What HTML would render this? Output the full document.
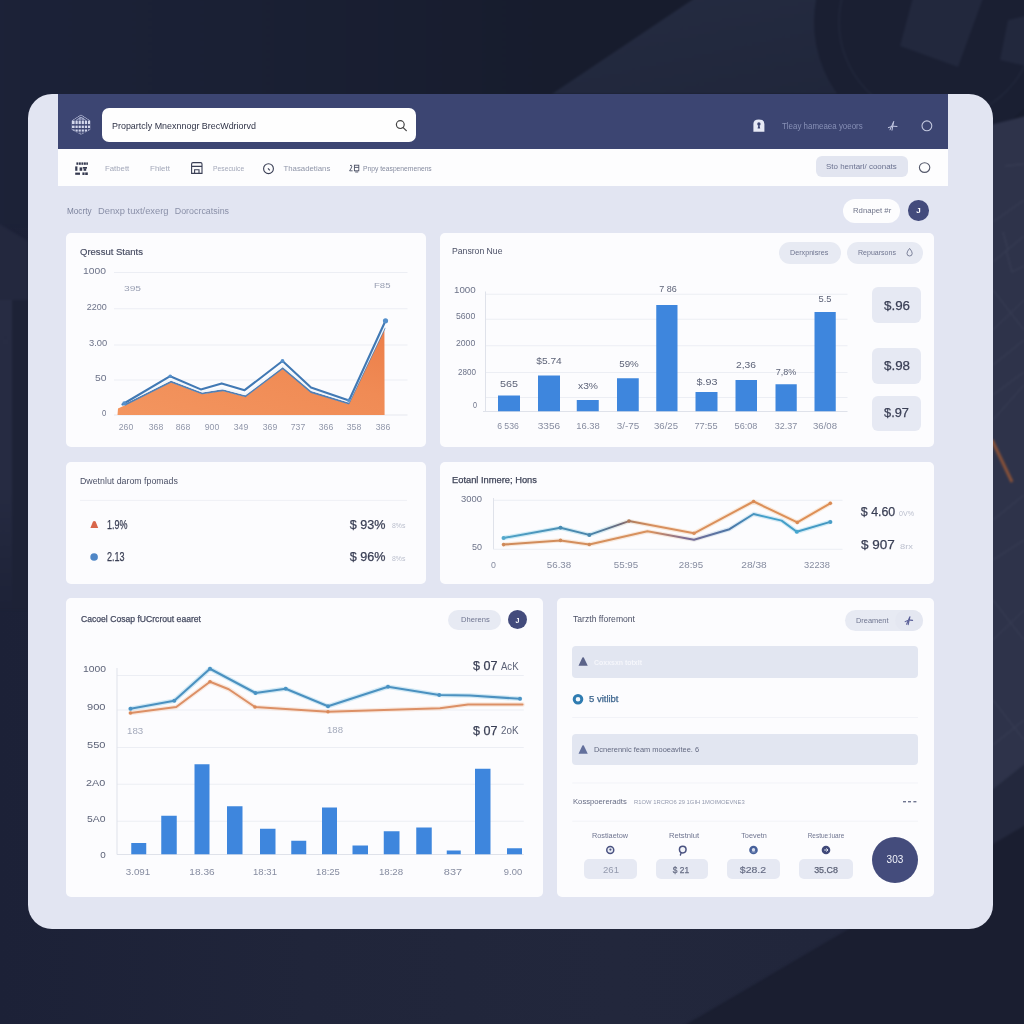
<!DOCTYPE html>
<html lang="en"><head><meta charset="utf-8"><title>Property Management Dashboard</title>
<style>

*{box-sizing:border-box;margin:0;padding:0}
html,body{width:1024px;height:1024px;overflow:hidden}
body{position:relative;background:#1f2438;font-family:"Liberation Sans",sans-serif;}
.bg,.ov{position:absolute;left:0;top:0;width:1024px;height:1024px}
.ov{pointer-events:none}
.panel{position:absolute;left:28px;top:93.5px;width:965px;height:835px;border-radius:24px;background:#e2e5f2;}
.panel>div{position:absolute}
.nav{left:30px;top:0;width:890px;height:55px;background:#3c4572}
.tool{left:30px;top:55px;width:890px;height:37px;background:#fdfdfe}
.card{background:#fcfcfe;border-radius:5px}
.search{background:#fefefe;border-radius:7px}
.pill{background:#e7eaf3;border-radius:11px}
.wpill{background:#fdfdfe;border-radius:13px}
.vbox{background:#e6e9f3;border-radius:6px}
.row{background:#e2e6f1;border-radius:4px}
.dot{background:#434b7c;border-radius:50%}
.texts{position:absolute;left:0;top:0;width:1024px;height:1024px;will-change:transform;transform:translateZ(0)}
.t{position:absolute;white-space:nowrap;line-height:1;transform:translateY(-50%);transform-origin:0 50%}
.t.c{transform:translate(-50%,-50%);transform-origin:50% 50%}

</style></head>
<body>
<svg class="bg" width="1024" height="1024" viewBox="0 0 1024 1024">
<defs>
<linearGradient id="gtop" x1="0" y1="0" x2="1" y2="0"><stop offset="0" stop-color="#1c2238"/><stop offset="0.25" stop-color="#1a2034"/><stop offset="0.55" stop-color="#171c2d"/><stop offset="1" stop-color="#181d2e"/></linearGradient>
<linearGradient id="gdiag" x1="0" y1="0" x2="1" y2="1"><stop offset="0" stop-color="#252c42"/><stop offset="1" stop-color="#1f2539"/></linearGradient>
<linearGradient id="gbase" x1="0" y1="0" x2="1" y2="0"><stop offset="0" stop-color="#1c2137"/><stop offset="0.3" stop-color="#20253a"/><stop offset="0.6" stop-color="#22273c"/><stop offset="1" stop-color="#20253a"/></linearGradient>
<linearGradient id="gleft" x1="0" y1="0" x2="0" y2="1"><stop offset="0" stop-color="#272c43"/><stop offset="0.6" stop-color="#262b42"/><stop offset="1" stop-color="#1d2237"/></linearGradient>
<filter id="soft" x="-5%" y="-5%" width="110%" height="110%" color-interpolation-filters="sRGB"><feGaussianBlur stdDeviation="1.1"/></filter>
</defs>
<rect x="0" y="0" width="1024" height="1024" fill="url(#gbase)"/>
<g filter="url(#soft)">
<rect x="-10" y="-10" width="1044" height="236" fill="url(#gtop)"/>
<polygon points="552,94 707,-10 1034,-10 1034,94" fill="url(#gdiag)"/>
<circle cx="937" cy="22" r="123" fill="#1a1f32"/>
<circle cx="937" cy="22" r="98" fill="none" stroke="#22283c" stroke-width="1.5"/>
<polygon points="915,-10 986,-10 958,67 900,46" fill="#22283d"/>
<polygon points="1008,20 1034,14 1034,68 1000,60" fill="#22283d"/>
<polygon points="990,125 1034,114 1034,757 990,792" fill="#2e334a"/>
<polygon points="990,792 1034,757 1034,819 990,852" fill="#23283d"/>
<g stroke="#3b4057" stroke-width="1" fill="none">
<path d="M993 222 L1024 200 M1005 166 L1024 164 M993 262 L1024 236 M1006 250 L1012 272 L1024 266 M1003 232 L1008 250 M993 290 L1024 330 M993 330 L1024 300 M993 365 L1024 340 M993 395 L1024 372 M993 420 L1024 385 M993 520 L1024 495 M993 560 L1024 540 M993 600 L1024 640 M993 640 L1024 610 M993 700 L1024 740 M993 745 L1024 720"/>
</g>
<path d="M992 440 L1012 482" stroke="#8a5238" stroke-width="3" fill="none"/>
<polygon points="-10,218 28,241 28,302 -10,302" fill="#23283e"/>
<rect x="-10" y="300" width="22" height="310" fill="url(#gleft)"/>
<rect x="12" y="300" width="16" height="310" fill="#1d2236"/>
<polygon points="670,1034 1034,820 1034,1034" fill="#1a1e30"/>
</g>
</svg>
<div class="panel">
<div class="nav"></div>
<div class="tool"></div>
<div class="search" style="left:74.25px;top:14.5px;width:314px;height:34px;"></div>
<div class="pill" style="left:788.2px;top:62.5px;width:91.4px;height:21.2px;border-radius:6px;background:#e2e5f0;"></div>
<div class="wpill" style="left:814.5px;top:105.25px;width:57.5px;height:24.25px;"></div>
<div class="dot" style="left:880.2px;top:106.8px;width:20.6px;height:20.6px;"></div>
<div class="card" style="left:37.5px;top:139px;width:360.5px;height:214.5px;"></div>
<div class="card" style="left:411.5px;top:139px;width:494.5px;height:214.5px;"></div>
<div class="card" style="left:37.5px;top:368px;width:360.5px;height:122px;"></div>
<div class="card" style="left:411.5px;top:368px;width:494.5px;height:122px;"></div>
<div class="card" style="left:37.5px;top:504.5px;width:477.5px;height:298.5px;"></div>
<div class="card" style="left:528.5px;top:504.5px;width:377.5px;height:298.5px;"></div>
<div class="pill" style="left:751px;top:148.5px;width:61.5px;height:21.7px;"></div>
<div class="pill" style="left:819px;top:148.3px;width:76px;height:21.9px;"></div>
<div class="vbox" style="left:844px;top:193.5px;width:49.25px;height:36.25px;"></div>
<div class="vbox" style="left:844px;top:254.5px;width:49.25px;height:35.75px;"></div>
<div class="vbox" style="left:844px;top:302.75px;width:49.25px;height:34.5px;"></div>
<div class="pill" style="left:420.25px;top:516px;width:53px;height:20.5px;"></div>
<div class="dot" style="left:480px;top:516.5px;width:19px;height:19px;"></div>
<div class="pill" style="left:817px;top:516.5px;width:77.5px;height:21.25px;"></div>
<div class="pill" style="left:867px;top:516.5px;width:27.5px;height:21.25px;background:#e4e7f1;"></div>
<div class="row" style="left:544.25px;top:552.75px;width:345.75px;height:31.25px;"></div>
<div class="row" style="left:544.25px;top:640.3px;width:345.75px;height:31.2px;"></div>
<div class="vbox" style="left:556px;top:765.25px;width:52.5px;height:20.5px;border-radius:5px;"></div>
<div class="vbox" style="left:628px;top:765.25px;width:51.75px;height:20.5px;border-radius:5px;"></div>
<div class="vbox" style="left:698.75px;top:765.25px;width:53.5px;height:20.5px;border-radius:5px;"></div>
<div class="vbox" style="left:770.75px;top:765.25px;width:53.75px;height:20.5px;border-radius:5px;"></div>
<div class="dot" style="left:843.75px;top:743px;width:46px;height:46px;background:#444c7c;"></div>
</div>
<svg class="ov" width="1024" height="1024" viewBox="0 0 1024 1024">
<defs><clipPath id="hex"><polygon points="81,114.6 90.2,120.4 90.2,129.8 81,134.8 71.8,129.8 71.8,120.4"/></clipPath></defs><g clip-path="url(#hex)"><rect x="71" y="120.6" width="20" height="14.5" fill="#d3d7ec"/><path d="M71.8 120.6 L81 114.8 L90.2 120.6" stroke="#c3c8e2" stroke-width="1" fill="none"/><path d="M76 120.4 L81 117.2 L86 120.4 M78.4 119 H84 M80 116.8 V120.5 M83 117.6 V120.5" stroke="#b4bad8" stroke-width="0.8" fill="none"/><g fill="#3c4572"><rect x="71" y="124.1" width="20" height="1.5"/><rect x="71" y="128" width="20" height="1.5"/><rect x="71" y="131.6" width="20" height="1.1"/><rect x="74.6" y="120" width="0.9" height="16"/><rect x="77.7" y="120" width="0.9" height="16"/><rect x="80.8" y="120" width="0.9" height="16"/><rect x="83.9" y="120" width="0.9" height="16"/><rect x="87" y="120" width="0.9" height="16"/></g><rect x="71" y="132.7" width="20" height="3" fill="#3c4572" opacity="0.45"/></g>
<circle cx="400.3" cy="124.6" r="3.9" stroke="#444" stroke-width="1.2" fill="none"/><path d="M403.2 127.6 L406.3 130.6" stroke="#444" stroke-width="1.3" stroke-linecap="round"/>
<path d="M753.4 131.8 V124 Q753.4 119.6 758.9 119.6 Q764.4 119.6 764.4 124 V131.8 Z" fill="#e6e9f5"/><circle cx="758.9" cy="124" r="1.7" fill="#3c4572"/><path d="M757.6 128.6 L758.4 125 H759.4 L760.2 128.6 Z" fill="#3c4572"/>
<path d="M888.3 127.6 Q892.5 125.2 897 126.4 M893.6 121.8 L892 130.2 M890 129.8 L893.6 121.8" stroke="#c3c8e2" stroke-width="1" fill="none" stroke-linecap="round"/>
<circle cx="926.9" cy="125.8" r="4.9" stroke="#c3c8df" stroke-width="1.1" fill="none"/>
<g fill="#34394f"><rect x="76.4" y="162.4" width="1.6" height="2.4"/><rect x="78.6" y="162.4" width="2.2" height="2.4"/><rect x="81.4" y="162.4" width="2" height="2.4"/><rect x="84" y="162.4" width="1.8" height="2.4"/><rect x="86.3" y="162.4" width="1.6" height="2.4"/><rect x="75.2" y="166.4" width="2.2" height="4.4"/><rect x="79.6" y="167.4" width="2.6" height="3.4"/><rect x="82.8" y="167" width="4.2" height="1.6"/><rect x="83.6" y="168.4" width="2.6" height="2.4"/><rect x="75.2" y="172.6" width="4.8" height="2.2"/><rect x="82.4" y="172.4" width="2.2" height="2.6"/><rect x="85.2" y="172.4" width="2.6" height="2.6"/></g>
<path d="M193 162.6 h7.6 a1.4 1.4 0 0 1 1.4 1.4 v9.4 h-10.4 v-9.4 a1.4 1.4 0 0 1 1.4 -1.4 z M191.6 166.4 H202 M194.6 173.4 v-3.6 h4.4 v3.6" stroke="#3a3f55" stroke-width="1.1" fill="none"/>
<circle cx="268.5" cy="168.7" r="4.9" stroke="#3a3f55" stroke-width="1.1" fill="none"/><path d="M268 168.3 L269.8 170.4" stroke="#3a3f55" stroke-width="1.1"/>
<g stroke="#4a4f63" stroke-width="0.9" fill="none"><path d="M350 165.6 q1.6 -1 1.8 0.6 q0 1.4 -2.2 4.6 h3"/><rect x="354.4" y="165.2" width="4.4" height="5.6"/><path d="M354.4 167.4 h4.4 M355.2 172 h3"/></g>
<ellipse cx="924.6" cy="167.6" rx="5.2" ry="4.8" stroke="#55596b" stroke-width="1.1" fill="none"/>
<line x1="114" y1="272.5" x2="407.5" y2="272.5" stroke="#eceef4" stroke-width="1"/>
<line x1="114" y1="308.75" x2="407.5" y2="308.75" stroke="#eceef4" stroke-width="1"/>
<line x1="114" y1="345" x2="407.5" y2="345" stroke="#eceef4" stroke-width="1"/>
<line x1="114" y1="380" x2="407.5" y2="380" stroke="#eceef4" stroke-width="1"/>
<line x1="114" y1="415" x2="407.5" y2="415" stroke="#e6e8ef" stroke-width="1"/>
<defs><linearGradient id="og" x1="0" y1="1" x2="1" y2="0"><stop offset="0" stop-color="#f3955f"/><stop offset="0.6" stop-color="#f08b55"/><stop offset="1" stop-color="#ec7e49"/></linearGradient></defs>
<polygon points="117.5,415 118,408.5 125.6,405 171,382.2 202.2,394 222.5,390.8 245.2,396.8 282.7,368.6 311.2,392.6 348.6,404 384.4,329 384.6,415" fill="url(#og)"/>
<polyline points="125.6,404.4 171,381.6 202.2,393.4 222.5,390.2 245.2,396.2 282.7,368 311.2,392 348.6,403.4 384.4,328.4" fill="none" stroke="#517fb4" stroke-width="1.9" stroke-linejoin="round" stroke-linecap="round"/>
<polyline points="125.7,402.5 171.1,379.7 202.3,391.5 222.6,388.3 245.3,394.3 282.8,366.1 311.3,390.1 348.7,401.5 384.5,326.5" fill="none" stroke="#f2f7fc" stroke-width="1.9" stroke-linejoin="round"/>
<polyline points="122.5,404.5 125.6,402.5 170.2,376.2 200.8,389.4 221.7,383.4 244.6,390.2 282.5,361 311,387.5 349,400.5 385.5,320.75" fill="none" stroke="#4179b4" stroke-width="2.1" stroke-linejoin="round" stroke-linecap="round"/>
<circle cx="385.5" cy="320.75" r="2.6" fill="#5590cc"/>
<circle cx="282.5" cy="361" r="1.9" fill="#5590cc"/>
<circle cx="170.2" cy="376.2" r="1.8" fill="#5590cc"/>
<circle cx="124.4" cy="403.4" r="2.2" fill="#5590cc"/>
<circle cx="348.6" cy="400.2" r="1.7" fill="#5590cc"/>
<line x1="485.5" y1="294.25" x2="847.5" y2="294.25" stroke="#eceef4" stroke-width="1"/>
<line x1="485.5" y1="319.25" x2="847.5" y2="319.25" stroke="#eceef4" stroke-width="1"/>
<line x1="485.5" y1="345.75" x2="847.5" y2="345.75" stroke="#eceef4" stroke-width="1"/>
<line x1="485.5" y1="372.5" x2="847.5" y2="372.5" stroke="#eceef4" stroke-width="1"/>
<line x1="485.5" y1="397.5" x2="847.5" y2="397.5" stroke="#eceef4" stroke-width="1"/>
<line x1="485.5" y1="291.5" x2="485.5" y2="411.5" stroke="#dfe2ea" stroke-width="1"/>
<line x1="483" y1="411.5" x2="847.5" y2="411.5" stroke="#dfe2ea" stroke-width="1"/>
<rect x="498" y="395.5" width="22" height="15.75" fill="#3e86dd"/>
<rect x="538" y="375.5" width="22" height="35.75" fill="#3e86dd"/>
<rect x="576.75" y="400" width="22" height="11.25" fill="#3e86dd"/>
<rect x="617" y="378.25" width="21.75" height="33" fill="#3e86dd"/>
<rect x="656.25" y="305" width="21.25" height="106.25" fill="#3e86dd"/>
<rect x="695.5" y="392" width="22" height="19.25" fill="#3e86dd"/>
<rect x="735.5" y="380" width="21.5" height="31.25" fill="#3e86dd"/>
<rect x="775.5" y="384.25" width="21.25" height="27" fill="#3e86dd"/>
<rect x="814.5" y="312" width="21.25" height="99.25" fill="#3e86dd"/>
<path d="M909.6 248.4 q2.6 3 2.6 5 a2.6 2.6 0 0 1 -5.2 0 q0 -2 2.6 -5 z" stroke="#6f7590" stroke-width="0.9" fill="none"/>
<line x1="80" y1="500.4" x2="407" y2="500.4" stroke="#eff0f5" stroke-width="1"/>
<path d="M90.4 528 L98.2 528 L95.6 521.6 Q94.3 520.6 93 521.6 Z" fill="#d8664a"/>
<circle cx="94.1" cy="557" r="3.8" fill="#4f86c6"/>
<line x1="493.5" y1="500.3" x2="842.5" y2="500.3" stroke="#eceef4" stroke-width="1"/>
<line x1="493.5" y1="498" x2="493.5" y2="549.3" stroke="#dfe2ea" stroke-width="1"/>
<line x1="493.5" y1="549.3" x2="842.5" y2="549.3" stroke="#eceef4" stroke-width="1"/>
<defs><linearGradient id="ga" gradientUnits="userSpaceOnUse" x1="503" y1="0" x2="831" y2="0"><stop offset="0" stop-color="#4fa3c8"/><stop offset="0.2" stop-color="#4a8cb2"/><stop offset="0.28" stop-color="#4a82a8"/><stop offset="0.36" stop-color="#6f6878"/><stop offset="0.4" stop-color="#b8805c"/><stop offset="0.46" stop-color="#d8905f"/><stop offset="1" stop-color="#de8f55"/></linearGradient><linearGradient id="gb" gradientUnits="userSpaceOnUse" x1="503" y1="0" x2="831" y2="0"><stop offset="0" stop-color="#cf8a5a"/><stop offset="0.45" stop-color="#d8925f"/><stop offset="0.56" stop-color="#7a6a95"/><stop offset="0.7" stop-color="#4a78a8"/><stop offset="0.8" stop-color="#45a3cc"/><stop offset="1" stop-color="#4396c0"/></linearGradient><linearGradient id="gag" gradientUnits="userSpaceOnUse" x1="503" y1="0" x2="831" y2="0"><stop offset="0" stop-color="#a9def0"/><stop offset="0.3" stop-color="#b4dbea"/><stop offset="0.42" stop-color="#f6d9be"/><stop offset="1" stop-color="#f6d6b8"/></linearGradient><linearGradient id="gbg" gradientUnits="userSpaceOnUse" x1="503" y1="0" x2="831" y2="0"><stop offset="0" stop-color="#f6d9be"/><stop offset="0.5" stop-color="#f3d8c4"/><stop offset="0.66" stop-color="#c3d8ec"/><stop offset="1" stop-color="#a9def0"/></linearGradient></defs>
<polyline points="503.6,544.6 560.5,540.4 589.3,544.5 647.4,531.3 694,539.7 729.5,529.2 753.6,514 781.6,520.6 796.8,531.8 830.3,521.9" fill="none" stroke="url(#gbg)" stroke-width="4.4" stroke-linejoin="round" stroke-linecap="round" opacity="0.55"/>
<polyline points="503.6,538 560.5,527.8 589.3,534.9 629,521.1 694,533.3 753.6,501.5 797.3,522.4 830.3,503.3" fill="none" stroke="url(#gag)" stroke-width="4.4" stroke-linejoin="round" stroke-linecap="round" opacity="0.55"/>
<polyline points="503.6,544.6 560.5,540.4 589.3,544.5 647.4,531.3 694,539.7 729.5,529.2 753.6,514 781.6,520.6 796.8,531.8 830.3,521.9" fill="none" stroke="url(#gb)" stroke-width="2" stroke-linejoin="round" stroke-linecap="round"/>
<polyline points="503.6,538 560.5,527.8 589.3,534.9 629,521.1 694,533.3 753.6,501.5 797.3,522.4 830.3,503.3" fill="none" stroke="url(#ga)" stroke-width="2" stroke-linejoin="round" stroke-linecap="round"/>
<circle cx="503.6" cy="538" r="2" fill="#55a9cc"/>
<circle cx="560.5" cy="527.8" r="2" fill="#4a8cb2"/>
<circle cx="589.3" cy="534.9" r="2" fill="#4a88ae"/>
<circle cx="796.8" cy="531.8" r="2" fill="#45a6cf"/>
<circle cx="830.3" cy="521.9" r="2" fill="#4a9cc6"/>
<circle cx="503.6" cy="544.6" r="1.8" fill="#cf8a5a"/>
<circle cx="560.5" cy="540.4" r="1.8" fill="#cf8a5a"/>
<circle cx="589.3" cy="544.5" r="1.8" fill="#cf8a5a"/>
<circle cx="629" cy="521.1" r="1.8" fill="#b07a5a"/>
<circle cx="694" cy="533.3" r="1.8" fill="#d98f5c"/>
<circle cx="753.6" cy="501.5" r="1.8" fill="#d98a55"/>
<circle cx="797.3" cy="522.4" r="1.8" fill="#d98a55"/>
<circle cx="830.3" cy="503.3" r="1.8" fill="#d98a55"/>
<line x1="117" y1="675.5" x2="523.75" y2="675.5" stroke="#eceef4" stroke-width="1"/>
<line x1="117" y1="710" x2="523.75" y2="710" stroke="#eceef4" stroke-width="1"/>
<line x1="117" y1="747.5" x2="523.75" y2="747.5" stroke="#eceef4" stroke-width="1"/>
<line x1="117" y1="784.25" x2="523.75" y2="784.25" stroke="#eceef4" stroke-width="1"/>
<line x1="117" y1="821.25" x2="523.75" y2="821.25" stroke="#eceef4" stroke-width="1"/>
<line x1="117" y1="668" x2="117" y2="854.5" stroke="#dfe2ea" stroke-width="1"/>
<line x1="117" y1="854.5" x2="523.75" y2="854.5" stroke="#dfe2ea" stroke-width="1"/>
<rect x="131.25" y="843" width="15" height="11.25" fill="#3e86dd"/>
<rect x="161.25" y="815.75" width="15.5" height="38.5" fill="#3e86dd"/>
<rect x="194.5" y="764.25" width="15" height="90" fill="#3e86dd"/>
<rect x="227" y="806.25" width="15.5" height="48" fill="#3e86dd"/>
<rect x="260" y="828.75" width="15.5" height="25.5" fill="#3e86dd"/>
<rect x="291.25" y="840.75" width="15" height="13.5" fill="#3e86dd"/>
<rect x="322" y="807.5" width="15" height="46.75" fill="#3e86dd"/>
<rect x="352.5" y="845.5" width="15.5" height="8.75" fill="#3e86dd"/>
<rect x="383.75" y="831.25" width="15.75" height="23" fill="#3e86dd"/>
<rect x="416.25" y="827.5" width="15.5" height="26.75" fill="#3e86dd"/>
<rect x="446.75" y="850.5" width="14" height="3.75" fill="#3e86dd"/>
<rect x="475" y="768.75" width="15.5" height="85.5" fill="#3e86dd"/>
<rect x="507" y="848.25" width="15" height="6" fill="#3e86dd"/>
<polyline points="130.5,713 176.25,707 210,681.75 228.75,689.25 255,707 328,711.75 440,708.25 468,704.5 522.5,704.5" fill="none" stroke="#f7dccb" stroke-width="4.6" stroke-linejoin="round" stroke-linecap="round" opacity="0.6"/>
<polyline points="130.5,708.75 174.25,700.75 210,668.75 255.5,693 285.75,688.75 328,706.25 388,686.75 439.25,695 470,695.5 520,698.75" fill="none" stroke="#b5dcee" stroke-width="4.6" stroke-linejoin="round" stroke-linecap="round" opacity="0.6"/>
<polyline points="130.5,713 176.25,707 210,681.75 228.75,689.25 255,707 328,711.75 440,708.25 468,704.5 522.5,704.5" fill="none" stroke="#dc9066" stroke-width="2.1" stroke-linejoin="round" stroke-linecap="round"/>
<polyline points="130.5,708.75 174.25,700.75 210,668.75 255.5,693 285.75,688.75 328,706.25 388,686.75 439.25,695 470,695.5 520,698.75" fill="none" stroke="#4b91c0" stroke-width="2.1" stroke-linejoin="round" stroke-linecap="round"/>
<circle cx="130.5" cy="708.75" r="2" fill="#4a93c4"/>
<circle cx="174.25" cy="700.75" r="2" fill="#4a93c4"/>
<circle cx="210" cy="668.75" r="2" fill="#4a93c4"/>
<circle cx="255.5" cy="693" r="2" fill="#4a93c4"/>
<circle cx="285.75" cy="688.75" r="2" fill="#4a93c4"/>
<circle cx="328" cy="706.25" r="2" fill="#4a93c4"/>
<circle cx="388" cy="686.75" r="2" fill="#4a93c4"/>
<circle cx="439.25" cy="695" r="2" fill="#4a93c4"/>
<circle cx="520" cy="698.75" r="2" fill="#4a93c4"/>
<circle cx="130.5" cy="713" r="1.8" fill="#d9895a"/>
<circle cx="210" cy="681.75" r="1.8" fill="#d9895a"/>
<circle cx="255" cy="707" r="1.8" fill="#d9895a"/>
<circle cx="328" cy="711.75" r="1.8" fill="#d9895a"/>
<path d="M578.5 665.75 L587.75 665.75 L583.8 657.6 Q583.1 656.8 582.4 657.6 Z" fill="#5b6389"/>
<path d="M578.5 753.75 L587.75 753.75 L583.8 745.6 Q583.1 744.8 582.4 745.6 Z" fill="#63709c"/>
<circle cx="578" cy="699.25" r="3.8" stroke="#2f7cb1" stroke-width="3" fill="#f4f8fc"/>
<line x1="572.25" y1="717.5" x2="918" y2="717.5" stroke="#f2f3f8" stroke-width="1"/>
<line x1="572.25" y1="783" x2="918" y2="783" stroke="#f2f3f8" stroke-width="1"/>
<line x1="572.25" y1="821.25" x2="918" y2="821.25" stroke="#f2f3f8" stroke-width="1"/>
<g fill="#6f7590"><rect x="903" y="801" width="3" height="1.4"/><rect x="908" y="801" width="3" height="1.4"/><rect x="913.4" y="801" width="3" height="1.4"/></g>
<path d="M905.2 621.6 Q908.6 619.6 912.6 620.4 M909.9 616.8 L908.2 624.6 M906.6 624.2 L909.9 616.8" stroke="#5a5f98" stroke-width="1.1" fill="none" stroke-linecap="round"/>
<circle cx="610.25" cy="850" r="3.5" stroke="#4a5280" stroke-width="1.5" fill="#e9ecf5"/><circle cx="610.4" cy="849.6" r="1.1" fill="#4a5280"/>
<circle cx="682.75" cy="849.6" r="3.3" stroke="#4a5280" stroke-width="1.5" fill="#f2f4f9"/><path d="M681.2 852.6 L680.4 855" stroke="#4a5280" stroke-width="1.4" stroke-linecap="round"/>
<circle cx="753.5" cy="850" r="4.3" fill="#46609a"/><circle cx="753.5" cy="849.8" r="1.7" fill="#d5dcee"/><rect x="751.6" y="851.4" width="3.8" height="1" fill="#d5dcee" opacity="0.6"/>
<circle cx="826" cy="850" r="4.3" fill="#404979"/><path d="M824.2 850 H827.6 M826.4 848.4 L828 850 L826.4 851.6" stroke="#dfe3f2" stroke-width="1" fill="none"/>
</svg>
<div class="texts">
<span class="t" style="left:111.5px;top:127px;font-size:9.2px;color:#2e3246;transform:translateY(-50%) scaleX(0.972);">Propartcly Mnexnnogr BrecWdriorvd</span>
<span class="t" style="left:781.75px;top:126.6px;font-size:8.2px;color:#8790b6;transform:translateY(-50%) scaleX(0.969);">Tleay hameaea yoeors</span>
<span class="t" style="left:104.75px;top:168.6px;font-size:7.9px;color:#a3a8b9;transform:translateY(-50%) scaleX(0.987);">Fatbett</span>
<span class="t" style="left:150.25px;top:168.6px;font-size:7.9px;color:#a3a8b9;transform:translateY(-50%) scaleX(1.013);">Fhlett</span>
<span class="t" style="left:212.75px;top:168.6px;font-size:7.6px;color:#a3a8b9;transform:translateY(-50%) scaleX(0.892);">Pesecuice</span>
<span class="t" style="left:283.5px;top:168.6px;font-size:7.8px;color:#8f95a8;">Thasadetians</span>
<span class="t" style="left:362.5px;top:168.6px;font-size:7.4px;color:#858b9f;transform:translateY(-50%) scaleX(0.909);">Pnpy teaspenemenens</span>
<span class="t" style="left:825.5px;top:166.75px;font-size:8.1px;color:#6b7290;transform:translateY(-50%) scaleX(0.983);">Sto hentarl/ coonats</span>
<span class="t" style="left:67.25px;top:211.25px;font-size:8.6px;color:#7d849e;transform:translateY(-50%) scaleX(0.950);">Mocrty</span>
<span class="t" style="left:98px;top:211.25px;font-size:8.9px;color:#8a90a8;transform:translateY(-50%) scaleX(1.051);">Denxp tuxt/exerg</span>
<span class="t" style="left:174.75px;top:211.25px;font-size:8.9px;color:#8a90a8;">Dorocrcatsins</span>
<span class="t" style="left:852.75px;top:210.6px;font-size:8px;color:#6f7489;transform:translateY(-50%) scaleX(0.966);">Rdnapet #r</span>
<span class="t c" style="left:918.5px;top:210.6px;font-size:8px;color:#ffffff;font-weight:700;">J</span>
<span class="t" style="left:80px;top:252px;font-size:9.7px;color:#454a60;transform:translateY(-50%) scaleX(0.983);-webkit-text-stroke:0.15px currentColor;">Qressut Stants</span>
<span class="t" style="left:83px;top:270.5px;font-size:9px;color:#6d7389;transform:translateY(-50%) scaleX(1.148);">1000</span>
<span class="t" style="left:86.75px;top:307px;font-size:9px;color:#6d7389;">2200</span>
<span class="t" style="left:88.75px;top:343px;font-size:9px;color:#6d7389;transform:translateY(-50%) scaleX(1.041);">3.00</span>
<span class="t" style="left:95px;top:378px;font-size:9px;color:#6d7389;transform:translateY(-50%) scaleX(1.148);">50</span>
<span class="t" style="left:102.25px;top:413px;font-size:9px;color:#6d7389;transform:translateY(-50%) scaleX(0.847);">0</span>
<span class="t" style="left:124px;top:288.75px;font-size:7.5px;color:#9aa0b3;transform:translateY(-50%) scaleX(1.358);">395</span>
<span class="t" style="left:374px;top:285.5px;font-size:7.5px;color:#9aa0b3;transform:translateY(-50%) scaleX(1.275);">F85</span>
<span class="t c" style="left:126px;top:427px;font-size:8.4px;color:#9197aa;transform:translate(-50%,-50%) scaleX(1.037);">260</span>
<span class="t c" style="left:155.5px;top:427px;font-size:8.4px;color:#9197aa;transform:translate(-50%,-50%) scaleX(1.037);">368</span>
<span class="t c" style="left:183px;top:427px;font-size:8.4px;color:#9197aa;transform:translate(-50%,-50%) scaleX(1.037);">868</span>
<span class="t c" style="left:212px;top:427px;font-size:8.4px;color:#9197aa;transform:translate(-50%,-50%) scaleX(1.037);">900</span>
<span class="t c" style="left:240.5px;top:427px;font-size:8.4px;color:#9197aa;transform:translate(-50%,-50%) scaleX(1.037);">349</span>
<span class="t c" style="left:269.5px;top:427px;font-size:8.4px;color:#9197aa;transform:translate(-50%,-50%) scaleX(1.037);">369</span>
<span class="t c" style="left:298px;top:427px;font-size:8.4px;color:#9197aa;transform:translate(-50%,-50%) scaleX(1.037);">737</span>
<span class="t c" style="left:326px;top:427px;font-size:8.4px;color:#9197aa;transform:translate(-50%,-50%) scaleX(1.037);">366</span>
<span class="t c" style="left:354px;top:427px;font-size:8.4px;color:#9197aa;transform:translate(-50%,-50%) scaleX(1.037);">358</span>
<span class="t c" style="left:383px;top:427px;font-size:8.4px;color:#9197aa;transform:translate(-50%,-50%) scaleX(1.037);">386</span>
<span class="t" style="left:452px;top:251.2px;font-size:9px;color:#4b5066;transform:translateY(-50%) scaleX(0.961);">Pansron Nue</span>
<span class="t" style="left:790px;top:252.5px;font-size:7.5px;color:#6f7590;transform:translateY(-50%) scaleX(0.956);">Derxpnisres</span>
<span class="t" style="left:858.25px;top:252.5px;font-size:7.5px;color:#6f7590;transform:translateY(-50%) scaleX(0.939);">Repuarsons</span>
<span class="t" style="left:453.75px;top:290.4px;font-size:8.9px;color:#6d7389;transform:translateY(-50%) scaleX(1.101);">1000</span>
<span class="t" style="left:456.25px;top:315.75px;font-size:8.9px;color:#6d7389;transform:translateY(-50%) scaleX(0.975);">5600</span>
<span class="t" style="left:456.25px;top:343.25px;font-size:8.9px;color:#6d7389;transform:translateY(-50%) scaleX(0.975);">2000</span>
<span class="t" style="left:457.5px;top:371.75px;font-size:8.9px;color:#6d7389;transform:translateY(-50%) scaleX(0.911);">2800</span>
<span class="t" style="left:472.5px;top:405px;font-size:8.9px;color:#6d7389;transform:translateY(-50%) scaleX(0.810);">0</span>
<span class="t c" style="left:509px;top:384.25px;font-size:8.8px;color:#5d6378;transform:translate(-50%,-50%) scaleX(1.226);">565</span>
<span class="t c" style="left:548.75px;top:360.5px;font-size:8.8px;color:#5d6378;transform:translate(-50%,-50%) scaleX(1.158);">$5.74</span>
<span class="t c" style="left:588px;top:385.5px;font-size:8.8px;color:#5d6378;transform:translate(-50%,-50%) scaleX(1.168);">x3%</span>
<span class="t c" style="left:628.75px;top:363.75px;font-size:8.8px;color:#5d6378;transform:translate(-50%,-50%) scaleX(1.107);">59%</span>
<span class="t c" style="left:668px;top:288.75px;font-size:8.8px;color:#5d6378;transform:translate(-50%,-50%) scaleX(1.022);">7 86</span>
<span class="t c" style="left:706.75px;top:381.75px;font-size:8.8px;color:#5d6378;transform:translate(-50%,-50%) scaleX(1.226);">$.93</span>
<span class="t c" style="left:745.75px;top:365px;font-size:8.8px;color:#5d6378;transform:translate(-50%,-50%) scaleX(1.168);">2,36</span>
<span class="t c" style="left:786.25px;top:372px;font-size:8.8px;color:#5d6378;transform:translate(-50%,-50%) scaleX(1.022);">7,8%</span>
<span class="t c" style="left:824.5px;top:298.75px;font-size:8.8px;color:#5d6378;transform:translate(-50%,-50%) scaleX(1.063);">5.5</span>
<span class="t c" style="left:508px;top:425.75px;font-size:8.3px;color:#868ca0;transform:translate(-50%,-50%) scaleX(1.047);">6 536</span>
<span class="t c" style="left:548.75px;top:425.75px;font-size:8.3px;color:#868ca0;transform:translate(-50%,-50%) scaleX(1.218);">3356</span>
<span class="t c" style="left:587.5px;top:425.75px;font-size:8.3px;color:#868ca0;transform:translate(-50%,-50%) scaleX(1.132);">16.38</span>
<span class="t c" style="left:627.5px;top:425.75px;font-size:8.3px;color:#868ca0;transform:translate(-50%,-50%) scaleX(1.189);">3/-75</span>
<span class="t c" style="left:666.25px;top:425.75px;font-size:8.3px;color:#868ca0;transform:translate(-50%,-50%) scaleX(1.156);">36/25</span>
<span class="t c" style="left:705.75px;top:425.75px;font-size:8.3px;color:#868ca0;transform:translate(-50%,-50%) scaleX(1.108);">77:55</span>
<span class="t c" style="left:745.5px;top:425.75px;font-size:8.3px;color:#868ca0;transform:translate(-50%,-50%) scaleX(1.096);">56:08</span>
<span class="t c" style="left:785.5px;top:425.75px;font-size:8.3px;color:#868ca0;transform:translate(-50%,-50%) scaleX(1.084);">32.37</span>
<span class="t c" style="left:824.5px;top:425.75px;font-size:8.3px;color:#868ca0;transform:translate(-50%,-50%) scaleX(1.156);">36/08</span>
<span class="t c" style="left:896.5px;top:305.75px;font-size:12.8px;color:#3a3f55;transform:translate(-50%,-50%) scaleX(1.043);-webkit-text-stroke:0.25px currentColor;">$.96</span>
<span class="t c" style="left:896.5px;top:365.75px;font-size:12.8px;color:#3a3f55;transform:translate(-50%,-50%) scaleX(1.043);-webkit-text-stroke:0.25px currentColor;">$.98</span>
<span class="t c" style="left:896.5px;top:412.5px;font-size:12.8px;color:#3a3f55;-webkit-text-stroke:0.25px currentColor;">$.97</span>
<span class="t" style="left:80px;top:481px;font-size:8.8px;color:#4b5066;">Dwetnlut darom fpomads</span>
<span class="t" style="left:107.4px;top:524.8px;font-size:12px;color:#3a3f55;transform:translateY(-50%) scaleX(0.749);-webkit-text-stroke:0.25px currentColor;">1.9%</span>
<span class="t" style="left:107.4px;top:557.4px;font-size:12px;color:#3a3f55;transform:translateY(-50%) scaleX(0.753);-webkit-text-stroke:0.25px currentColor;">2.13</span>
<span class="t" style="left:349.8px;top:524.9px;font-size:12.6px;color:#3a3f55;-webkit-text-stroke:0.25px currentColor;">$ 93%</span>
<span class="t" style="left:391.5px;top:526.4px;font-size:7.5px;color:#bcc0ce;transform:translateY(-50%) scaleX(0.925);">8%s</span>
<span class="t" style="left:349.8px;top:557.3px;font-size:12.6px;color:#3a3f55;-webkit-text-stroke:0.25px currentColor;">$ 96%</span>
<span class="t" style="left:391.5px;top:559px;font-size:7.5px;color:#bcc0ce;transform:translateY(-50%) scaleX(0.925);">8%s</span>
<span class="t" style="left:452.3px;top:481px;font-size:9.2px;color:#3f4459;transform:translateY(-50%) scaleX(1.014);-webkit-text-stroke:0.25px currentColor;">Eotanl Inmere; Hons</span>
<span class="t" style="left:461px;top:498.8px;font-size:8.6px;color:#6d7389;transform:translateY(-50%) scaleX(1.098);">3000</span>
<span class="t" style="left:472px;top:546.5px;font-size:8.6px;color:#6d7389;transform:translateY(-50%) scaleX(1.046);">50</span>
<span class="t c" style="left:493.5px;top:564.5px;font-size:8.8px;color:#868ca0;">0</span>
<span class="t c" style="left:559px;top:564.5px;font-size:8.8px;color:#868ca0;transform:translate(-50%,-50%) scaleX(1.108);">56.38</span>
<span class="t c" style="left:625.5px;top:564.5px;font-size:8.8px;color:#868ca0;transform:translate(-50%,-50%) scaleX(1.108);">55:95</span>
<span class="t c" style="left:691.4px;top:564.5px;font-size:8.8px;color:#868ca0;transform:translate(-50%,-50%) scaleX(1.108);">28:95</span>
<span class="t c" style="left:753.6px;top:564.5px;font-size:8.8px;color:#868ca0;transform:translate(-50%,-50%) scaleX(1.154);">28/38</span>
<span class="t c" style="left:817px;top:564.5px;font-size:8.8px;color:#868ca0;transform:translate(-50%,-50%) scaleX(1.058);">32238</span>
<span class="t" style="left:860.8px;top:511.8px;font-size:12.4px;color:#3a3f55;-webkit-text-stroke:0.25px currentColor;">$ 4.60</span>
<span class="t" style="left:899px;top:514px;font-size:7.5px;color:#bcc0ce;transform:translateY(-50%) scaleX(0.947);">0V%</span>
<span class="t" style="left:860.8px;top:544.8px;font-size:12.4px;color:#3a3f55;transform:translateY(-50%) scaleX(1.090);-webkit-text-stroke:0.25px currentColor;">$ 907</span>
<span class="t" style="left:900px;top:546.6px;font-size:7.5px;color:#bcc0ce;transform:translateY(-50%) scaleX(1.247);">8rx</span>
<span class="t" style="left:80.5px;top:619.5px;font-size:9.1px;color:#454a60;transform:translateY(-50%) scaleX(0.946);-webkit-text-stroke:0.25px currentColor;">Cacoel Cosap fUCrcrout eaaret</span>
<span class="t" style="left:461.25px;top:619.5px;font-size:7.8px;color:#6f7590;transform:translateY(-50%) scaleX(0.975);">Dherens</span>
<span class="t c" style="left:517.5px;top:619.5px;font-size:7px;color:#ffffff;font-weight:700;">J</span>
<span class="t" style="left:82.5px;top:668.6px;font-size:9.7px;color:#5d6378;transform:translateY(-50%) scaleX(1.067);">1000</span>
<span class="t" style="left:87px;top:706.6px;font-size:9.7px;color:#5d6378;transform:translateY(-50%) scaleX(1.144);">900</span>
<span class="t" style="left:87px;top:744.6px;font-size:9.7px;color:#5d6378;transform:translateY(-50%) scaleX(1.144);">550</span>
<span class="t" style="left:86.25px;top:782.8px;font-size:9.7px;color:#5d6378;transform:translateY(-50%) scaleX(1.116);">2A0</span>
<span class="t" style="left:87px;top:819px;font-size:9.7px;color:#5d6378;transform:translateY(-50%) scaleX(1.072);">5A0</span>
<span class="t c" style="left:103px;top:854.5px;font-size:9.7px;color:#5d6378;transform:translate(-50%,-50%) scaleX(1.020);">0</span>
<span class="t" style="left:127px;top:730.75px;font-size:8.6px;color:#a4aabb;transform:translateY(-50%) scaleX(1.133);">183</span>
<span class="t" style="left:327px;top:729.5px;font-size:8.6px;color:#a4aabb;transform:translateY(-50%) scaleX(1.115);">188</span>
<span class="t" style="left:473px;top:666.25px;font-size:12.4px;color:#3a3f55;transform:translateY(-50%) scaleX(1.016);-webkit-text-stroke:0.25px currentColor;">$ 07</span>
<span class="t" style="left:501.25px;top:666.5px;font-size:10px;color:#5d6378;transform:translateY(-50%) scaleX(0.954);">AcK</span>
<span class="t" style="left:473px;top:730.75px;font-size:12.4px;color:#3a3f55;transform:translateY(-50%) scaleX(1.016);-webkit-text-stroke:0.25px currentColor;">$ 07</span>
<span class="t" style="left:501.25px;top:731px;font-size:10px;color:#5d6378;transform:translateY(-50%) scaleX(0.983);">2oK</span>
<span class="t c" style="left:138.25px;top:871.5px;font-size:8.8px;color:#868ca0;transform:translate(-50%,-50%) scaleX(1.113);">3.091</span>
<span class="t c" style="left:201.75px;top:871.5px;font-size:8.8px;color:#868ca0;transform:translate(-50%,-50%) scaleX(1.147);">18.36</span>
<span class="t c" style="left:265px;top:871.5px;font-size:8.8px;color:#868ca0;transform:translate(-50%,-50%) scaleX(1.090);">18:31</span>
<span class="t c" style="left:328.25px;top:871.5px;font-size:8.8px;color:#868ca0;transform:translate(-50%,-50%) scaleX(1.079);">18:25</span>
<span class="t c" style="left:390.75px;top:871.5px;font-size:8.8px;color:#868ca0;transform:translate(-50%,-50%) scaleX(1.101);">18:28</span>
<span class="t c" style="left:453px;top:871.5px;font-size:8.8px;color:#868ca0;transform:translate(-50%,-50%) scaleX(1.243);">837</span>
<span class="t c" style="left:513.25px;top:871.5px;font-size:8.8px;color:#868ca0;transform:translate(-50%,-50%) scaleX(1.066);">9.00</span>
<span class="t" style="left:572.75px;top:619.25px;font-size:8.3px;color:#4b5066;transform:translateY(-50%) scaleX(1.037);">Tarzth fforemont</span>
<span class="t" style="left:856.25px;top:620.5px;font-size:7.8px;color:#6f7590;transform:translateY(-50%) scaleX(0.949);">Dreament</span>
<span class="t" style="left:593.5px;top:662.5px;font-size:7.8px;color:#f5f6fb;font-weight:700;transform:translateY(-50%) scaleX(0.893);">Coxxsxn totxlt</span>
<span class="t" style="left:589px;top:699.25px;font-size:8.6px;color:#3f678f;transform:translateY(-50%) scaleX(1.103);-webkit-text-stroke:0.25px currentColor;">5 vitlibt</span>
<span class="t" style="left:594px;top:749.8px;font-size:8px;color:#636981;transform:translateY(-50%) scaleX(0.930);">Dcnerennic feam mooeavitee. 6</span>
<span class="t" style="left:572.75px;top:802px;font-size:7.8px;color:#666c84;transform:translateY(-50%) scaleX(0.984);">Kosspoereradts</span>
<span class="t" style="left:634px;top:802px;font-size:6px;color:#949aae;transform:translateY(-50%) scaleX(0.974);">R1OW 1RCRO6 29 1GIH 1MOIMOEVNE3</span>
<span class="t c" style="left:610px;top:836.25px;font-size:7.3px;color:#6f7590;">Rostiaetow</span>
<span class="t c" style="left:684.25px;top:836.25px;font-size:7.3px;color:#6f7590;transform:translate(-50%,-50%) scaleX(1.050);">Retstnlut</span>
<span class="t c" style="left:754px;top:836.25px;font-size:7.3px;color:#6f7590;">Toevetn</span>
<span class="t c" style="left:826.25px;top:836.25px;font-size:7.3px;color:#6f7590;transform:translate(-50%,-50%) scaleX(0.888);">Restue:iuare</span>
<span class="t c" style="left:610.5px;top:869.6px;font-size:8.8px;color:#949aae;transform:translate(-50%,-50%) scaleX(1.089);">261</span>
<span class="t c" style="left:681px;top:869.6px;font-size:8.8px;color:#666c84;transform:translate(-50%,-50%) scaleX(0.949);-webkit-text-stroke:0.25px currentColor;">$ 21</span>
<span class="t c" style="left:753px;top:869.6px;font-size:9.4px;color:#666c84;transform:translate(-50%,-50%) scaleX(1.119);-webkit-text-stroke:0.15px currentColor;">$28.2</span>
<span class="t c" style="left:825.75px;top:869.6px;font-size:8.8px;color:#5d6378;transform:translate(-50%,-50%) scaleX(1.011);-webkit-text-stroke:0.25px currentColor;">35.C8</span>
<span class="t c" style="left:894.75px;top:859.8px;font-size:10.4px;color:#f0f2fa;transform:translate(-50%,-50%) scaleX(0.966);">303</span>
</div>
</body></html>
